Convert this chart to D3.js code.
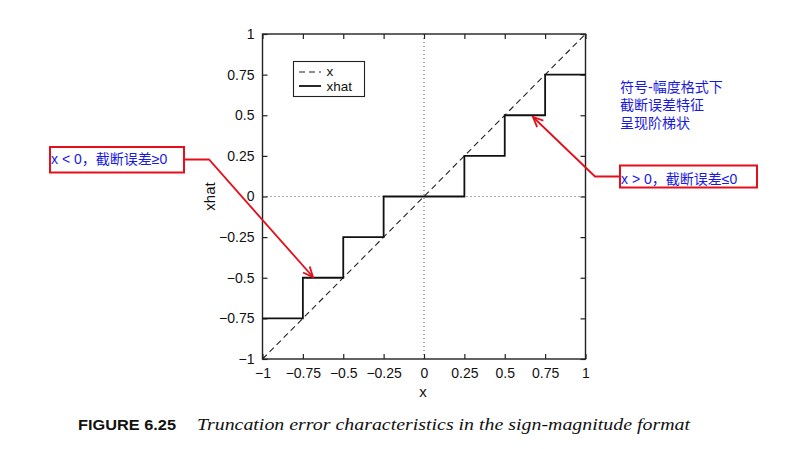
<!DOCTYPE html>
<html><head><meta charset="utf-8">
<script src="https://cdn.jsdelivr.net/npm/d3@7"></script>
<style>body{margin:0;background:#fff}svg{display:block}</style>
</head><body>
<svg id="c" width="804" height="449"></svg>
<script>
// Data
const xTicks = [-1, -0.75, -0.5, -0.25, 0, 0.25, 0.5, 0.75, 1];
const yTicks = [-1, -0.75, -0.5, -0.25, 0, 0.25, 0.5, 0.75, 1];
const idealX = [-1, 1];
const idealY = [-1, 1];
// staircase (step edges and levels) for sign-magnitude truncation
const stepEdges = [-1, -0.75, -0.5, -0.25, 0.25, 0.5, 0.75, 1];
const stepLevels = [-0.75, -0.5, -0.25, 0, 0.25, 0.5, 0.75];
const legendLabels = ["x", "xhat"];
const noteLeft = "x < 0，截断误差≥0";
const noteRight = "x > 0，截断误差≤0";
const noteBlock = ["符号-幅度格式下", "截断误差特征", "呈现阶梯状"];
const caption = ["FIGURE 6.25", "Truncation error characteristics in the sign-magnitude format"];

(function () {
const svg = d3.select("#c");
const L = 262.5, R = 585.5, T = 34, B = 359;
const x = d3.scaleLinear().domain([-1, 1]).range([L, R]);
const y = d3.scaleLinear().domain([-1, 1]).range([B, T]);
const fmt = v => v === 0 ? "0" : (v < 0 ? "\u2212" : "") + String(Math.abs(v));
const font = "'Liberation Sans', Arial, sans-serif";

// zero dotted lines
svg.append("line").attr("x1", x(0)).attr("x2", x(0)).attr("y1", T).attr("y2", B)
  .attr("stroke", "#555").attr("stroke-width", 1).attr("stroke-dasharray", "1,3");
svg.append("line").attr("x1", L).attr("x2", R).attr("y1", y(0)).attr("y2", y(0))
  .attr("stroke", "#555").attr("stroke-width", 1).attr("stroke-dasharray", "1,3");

// axes
const ax = svg.append("g").attr("font-family", font);
const axB = d3.axisBottom(x).tickValues(xTicks).tickFormat(fmt).tickSizeInner(-5).tickSizeOuter(0).tickPadding(9);
const axL = d3.axisLeft(y).tickValues(yTicks).tickFormat(fmt).tickSizeInner(-5).tickSizeOuter(0).tickPadding(8);
const axT = d3.axisTop(x).tickValues(xTicks).tickFormat("").tickSizeInner(-5).tickSizeOuter(0);
const axR = d3.axisRight(y).tickValues(yTicks).tickFormat("").tickSizeInner(-5).tickSizeOuter(0);
[[axB, `translate(0,${B})`], [axL, `translate(${L},0)`], [axT, `translate(0,${T})`], [axR, `translate(${R},0)`]]
  .forEach(([a, t]) => {
    const g = ax.append("g").attr("transform", t).call(a);
    g.select(".domain").remove();
    g.selectAll("line").attr("stroke", "#222").attr("stroke-width", 1.2);
    g.selectAll("text").attr("font-size", 14).attr("fill", "#111").attr("font-family", font);
  });
svg.append("rect").attr("x", L).attr("y", T).attr("width", R - L).attr("height", B - T)
  .attr("fill", "none").attr("stroke", "#222").attr("stroke-width", 1.4);

svg.append("text").attr("x", (L + R) / 2 - 1).attr("y", 397).attr("text-anchor", "middle")
  .attr("font-family", font).attr("font-size", 15).attr("fill", "#111").text("x");
svg.append("text").attr("transform", `translate(215,${(T + B) / 2}) rotate(-90)`).attr("text-anchor", "middle")
  .attr("font-family", font).attr("font-size", 15).attr("fill", "#111").text("xhat");

// ideal dashed line
const line = d3.line().x(d => x(d[0])).y(d => y(d[1]));
svg.append("path").attr("d", line(idealX.map((v, i) => [v, idealY[i]])))
  .attr("fill", "none").attr("stroke", "#222").attr("stroke-width", 1.1).attr("stroke-dasharray", "6,4");

// staircase
const pts = [];
stepLevels.forEach((lv, i) => { pts.push([stepEdges[i], lv]); pts.push([stepEdges[i + 1], lv]); });
svg.append("path").attr("d", line(pts)).attr("fill", "none").attr("stroke", "#111").attr("stroke-width", 1.8);

// legend
const lg = svg.append("g");
lg.append("rect").attr("x", 293.5).attr("y", 61.5).attr("width", 71).attr("height", 35)
  .attr("fill", "#fff").attr("stroke", "#222").attr("stroke-width", 1.1);
lg.append("line").attr("x1", 299).attr("x2", 321).attr("y1", 72).attr("y2", 72)
  .attr("stroke", "#222").attr("stroke-width", 1.1).attr("stroke-dasharray", "6,4");
lg.append("line").attr("x1", 299).attr("x2", 321).attr("y1", 86).attr("y2", 86)
  .attr("stroke", "#111").attr("stroke-width", 1.8);
legendLabels.forEach((t, i) => lg.append("text").attr("x", 326.5).attr("y", 75.5 + i * 15)
  .attr("font-family", font).attr("font-size", 13.5).attr("fill", "#111").text(t));

// annotations
const red = "#e3101c", blue = "#1a1adc";
const mixed = "'Liberation Sans', 'Noto Sans CJK SC', sans-serif";
function arrow(ptsA) {
  svg.append("path").attr("d", d3.line()(ptsA)).attr("fill", "none").attr("stroke", red).attr("stroke-width", 1.8);
  const [p, q] = [ptsA[ptsA.length - 2], ptsA[ptsA.length - 1]];
  const ang = Math.atan2(q[1] - p[1], q[0] - p[0]);
  const h = 11, s = 0.42;
  const a1 = [q[0] - h * Math.cos(ang - s), q[1] - h * Math.sin(ang - s)];
  const a2 = [q[0] - h * Math.cos(ang + s), q[1] - h * Math.sin(ang + s)];
  svg.append("path").attr("d", d3.line()([a1, q, a2])).attr("fill", "none").attr("stroke", red).attr("stroke-width", 1.8);
}
arrow([[184, 159.5], [209, 159.5], [313, 277]]);
arrow([[620, 176.5], [595, 176.5], [533, 117]]);

svg.append("rect").attr("x", 50).attr("y", 147).attr("width", 134).attr("height", 25.5)
  .attr("fill", "#fff").attr("stroke", red).attr("stroke-width", 2);
svg.append("text").attr("x", 51).attr("y", 163.5).attr("font-family", mixed).attr("font-size", 14)
  .attr("fill", blue).text(noteLeft);
svg.append("rect").attr("x", 620).attr("y", 165.5).attr("width", 137).attr("height", 22)
  .attr("fill", "#fff").attr("stroke", red).attr("stroke-width", 2);
svg.append("text").attr("x", 621).attr("y", 183.5).attr("font-family", mixed).attr("font-size", 14)
  .attr("fill", blue).text(noteRight);
noteBlock.forEach((t, i) => svg.append("text").attr("x", 620).attr("y", 91.5 + i * 18.3)
  .attr("font-family", mixed).attr("font-size", 14).attr("fill", blue).text(t));

// caption
svg.append("text").attr("x", 78).attr("y", 430).attr("font-family", font).attr("font-weight", "bold")
  .attr("font-size", 14).attr("fill", "#111").attr("textLength", 98).attr("lengthAdjust", "spacingAndGlyphs").text(caption[0]);
svg.append("text").attr("x", 197).attr("y", 430).attr("font-family", "'Liberation Serif', 'DejaVu Serif', serif")
  .attr("font-style", "italic").attr("font-size", 16).attr("fill", "#111")
  .attr("textLength", 493).attr("lengthAdjust", "spacingAndGlyphs").text(caption[1]);
})();
</script>
</body></html>
